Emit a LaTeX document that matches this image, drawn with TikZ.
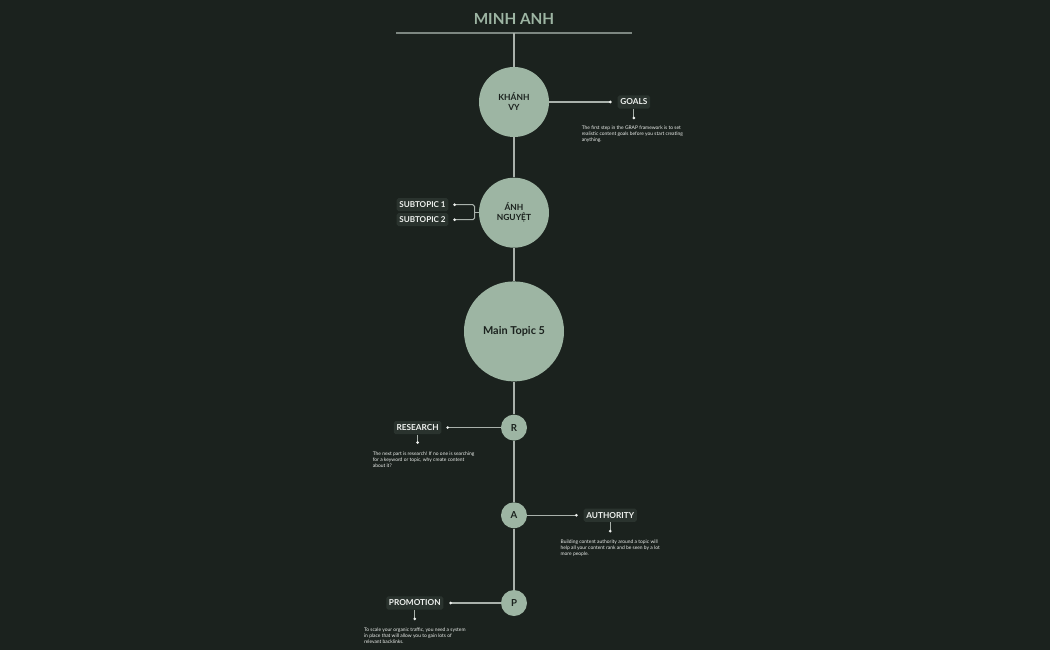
\documentclass[tikz,border=0pt]{standalone}
\usepackage{fontspec}
\setmainfont{Lato}
\usetikzlibrary{positioning,calc}
\definecolor{bgdark}{HTML}{1B221E}
\definecolor{sage}{HTML}{9DB5A3}
\definecolor{tagbg}{HTML}{2A332E}
\definecolor{linegray}{HTML}{A9B1AB}
\definecolor{rulegray}{HTML}{7D8781}
\definecolor{paletext}{HTML}{EEF1EE}

\begin{document}
\begin{tikzpicture}[
    topic/.style={circle, fill=sage, text=bgdark, align=center, inner sep=0pt, minimum size=1.4cm, font=\fontsize{4.8}{5.6}\selectfont\bfseries},
    letter/.style={circle, fill=sage, text=bgdark, minimum size=0.52cm, inner sep=0pt, font=\fontsize{5.5}{6}\selectfont\bfseries},
    tag/.style={rectangle, rounded corners=1pt, fill=tagbg, text=paletext, inner xsep=1.5pt, inner ysep=2pt, font=\fontsize{4.7}{5.5}\selectfont\bfseries},
    desc/.style={text=paletext, align=left, inner sep=0pt, font=\fontsize{2.8}{3.4}\selectfont},
    link/.style={draw=linegray, line width=0.8pt},
    stub/.style={draw=linegray, line width=0.6pt}
]
    \fill[bgdark] (0,0) rectangle (21,-13);

    % title and rule
    \node[font=\fontsize{8.7}{10}\selectfont\bfseries, text=sage] (title) at (10.28,-0.38) {MINH ANH};
    \coordinate (ruleL) at (7.92,-0.66);
    \coordinate (ruleR) at (12.64,-0.66);
    \coordinate (top) at (10.28,-0.66);
    \draw[line width=0.9pt, draw=rulegray] (ruleL) -- (ruleR);

    % spine
    \node[topic] (kv) at (10.28,-2.04) {KHÁNH\\VY};
    \node[topic, below=0.8cm of kv] (an) {ÁNH\\NGUYỆT};
    \node[topic, minimum size=2cm, below=0.66cm of an, font=\fontsize{6.2}{7}\selectfont\bfseries] (main) {Main Topic 5};
    \node[letter, below=0.65cm of main] (r) {R};
    \node[letter, below=1.22cm of r] (a) {A};
    \node[letter, below=1.22cm of a] (p) {P};
    \draw[link] (top) -- (kv) -- (an) -- (main) -- (r) -- (a) -- (p);

    % goals
    \node[tag, right=1.36cm of kv] (goals) {GOALS};
    \coordinate[left=0.14cm of goals] (goalsdot);
    \coordinate[below=0.18cm of goals] (goalsstem);
    \draw[stub] (kv) -- (goalsdot);
    \draw[stub] (goals) -- (goalsstem);
    \fill[paletext] (goalsdot) circle (0.85pt) (goalsstem) circle (0.85pt);
    \node[desc, below=0.16cm of goalsstem, xshift=-0.03cm] (goalstext) {The first step in the GRAP framework is to set\\realistic content goals before you start creating\\anything.};

    % subtopics
    \node[tag, left=0.6cm of an, yshift=0.16cm, font=\fontsize{4.6}{5}\selectfont\bfseries] (sub1) {SUBTOPIC 1};
    \node[tag, left=0.6cm of an, yshift=-0.14cm, font=\fontsize{4.6}{5}\selectfont\bfseries] (sub2) {SUBTOPIC 2};
    \coordinate[right=0.12cm of sub1] (sub1dot);
    \coordinate[right=0.12cm of sub2] (sub2dot);
    \coordinate[left=0.08cm of an] (brk);
    \draw[stub, rounded corners=1pt] (sub1dot) -| (brk) |- (sub2dot);
    \draw[stub] (brk) -- (an);
    \fill[paletext] (sub1dot) circle (0.85pt) (sub2dot) circle (0.85pt);

    % research
    \node[tag, left=1.18cm of r] (research) {RESEARCH};
    \coordinate[right=0.12cm of research] (researchdot);
    \coordinate[below=0.16cm of research] (researchstem);
    \draw[stub] (r) -- (researchdot);
    \draw[stub] (research) -- (researchstem);
    \fill[paletext] (researchdot) circle (0.85pt) (researchstem) circle (0.85pt);
    \node[desc, below=0.18cm of researchstem, xshift=0.12cm] (researchtext) {The next part is research! If no one is searching\\for a keyword or topic, why create content\\about it?};

    % authority
    \node[tag, right=1.12cm of a] (authority) {AUTHORITY};
    \coordinate[left=0.14cm of authority] (authoritydot);
    \coordinate[below=0.18cm of authority] (authoritystem);
    \draw[stub] (a) -- (authoritydot);
    \draw[stub] (authority) -- (authoritystem);
    \fill[paletext] (authoritydot) circle (0.85pt) (authoritystem) circle (0.85pt);
    \node[desc, below=0.16cm of authoritystem] (authoritytext) {Building content authority around a topic will\\help all your content rank and be seen by a lot\\more people.};

    % promotion
    \node[tag, left=1.14cm of p] (promotion) {PROMOTION};
    \coordinate[right=0.14cm of promotion] (promotiondot);
    \coordinate[below=0.18cm of promotion] (promotionstem);
    \draw[stub] (p) -- (promotiondot);
    \draw[stub] (promotion) -- (promotionstem);
    \fill[paletext] (promotiondot) circle (0.85pt) (promotionstem) circle (0.85pt);
    \node[desc, below=0.18cm of promotionstem] (promotiontext) {To scale your organic traffic, you need a system\\in place that will allow you to gain lots of\\relevant backlinks.};
\end{tikzpicture}
\end{document}
